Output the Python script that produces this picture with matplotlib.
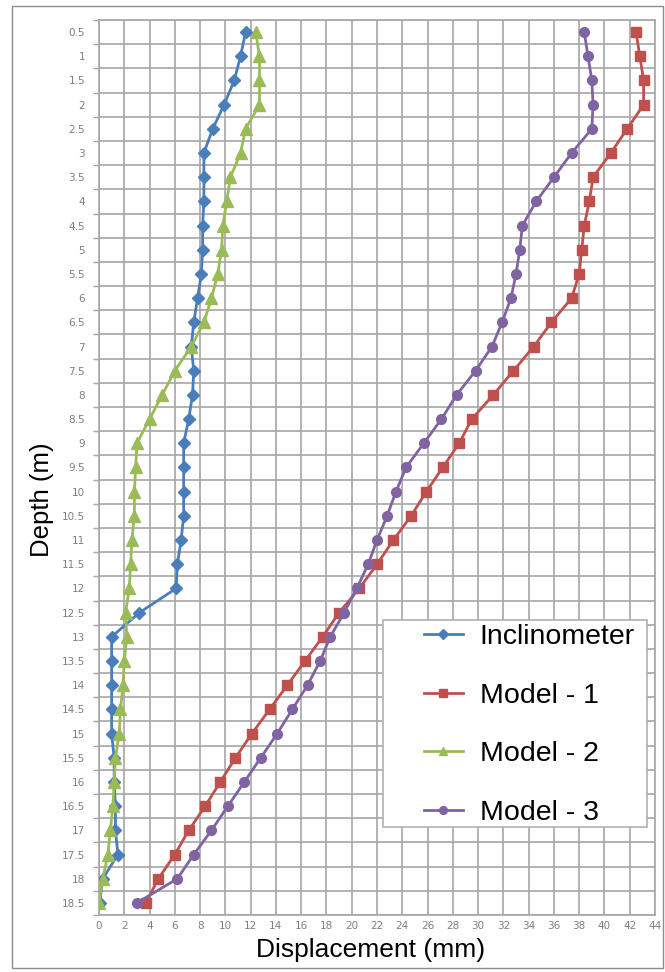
import numpy as np
import matplotlib
matplotlib.use("Agg")
import matplotlib.pyplot as plt
from matplotlib.patches import Rectangle

depth = [0.5, 1, 1.5, 2, 2.5, 3, 3.5, 4, 4.5, 5, 5.5, 6, 6.5, 7, 7.5, 8, 8.5, 9, 9.5,
         10, 10.5, 11, 11.5, 12, 12.5, 13, 13.5, 14, 14.5, 15, 15.5, 16, 16.5, 17, 17.5, 18, 18.5]
depth_labels = ["0.5", "1", "1.5", "2", "2.5", "3", "3.5", "4", "4.5", "5", "5.5", "6", "6.5",
                "7", "7.5", "8", "8.5", "9", "9.5", "10", "10.5", "11", "11.5", "12", "12.5",
                "13", "13.5", "14", "14.5", "15", "15.5", "16", "16.5", "17", "17.5", "18", "18.5"]

inclinometer = [11.6, 11.2, 10.7, 9.9, 9.0, 8.3, 8.3, 8.3, 8.2, 8.2, 8.1, 7.8, 7.5, 7.3, 7.5,
                7.4, 7.1, 6.7, 6.7, 6.7, 6.7, 6.5, 6.2, 6.1, 3.2, 1.0, 1.0, 1.0, 1.0, 1.0,
                1.2, 1.2, 1.3, 1.3, 1.5, 0.3, 0.05]
model_1 = [42.5, 42.8, 43.1, 43.1, 41.8, 40.5, 39.1, 38.8, 38.4, 38.2, 38.0, 37.4, 35.8, 34.4,
           32.8, 31.2, 29.5, 28.5, 27.2, 25.9, 24.7, 23.3, 22.0, 20.6, 19.0, 17.7, 16.3, 14.9,
           13.5, 12.1, 10.8, 9.6, 8.4, 7.1, 6.0, 4.7, 3.7]
model_2 = [12.4, 12.7, 12.7, 12.7, 11.6, 11.2, 10.4, 10.1, 9.8, 9.7, 9.4, 8.9, 8.3, 7.3, 6.0,
           5.0, 4.0, 3.0, 2.9, 2.8, 2.8, 2.6, 2.5, 2.4, 2.1, 2.2, 2.0, 1.9, 1.7, 1.6, 1.3,
           1.2, 1.1, 0.9, 0.7, 0.3, 0.0]
model_3 = [38.4, 38.7, 39.0, 39.1, 39.0, 37.4, 36.0, 34.6, 33.5, 33.3, 33.0, 32.6, 31.9, 31.1,
           29.8, 28.3, 27.1, 25.7, 24.3, 23.5, 22.8, 22.0, 21.3, 20.4, 19.4, 18.3, 17.5, 16.5,
           15.3, 14.1, 12.8, 11.5, 10.2, 8.9, 7.5, 6.2, 3.0]

x_ticks = list(range(0, 46, 2))

W, H = 665, 972
fig = plt.figure(figsize=(W / 100, H / 100), dpi=100)
ax = fig.add_axes([99 / W, 1 - 915 / H, (655 - 99) / W, (915 - 20) / H])

grid_c = "#a6a6a6"
ax.plot(inclinometer, depth, color="#4a7ebb", marker="D", ms=6, lw=2, label="Inclinometer", zorder=3)
ax.plot(model_1, depth, color="#c0504d", marker="s", ms=7, lw=2, label="Model - 1", zorder=3)
ax.plot(model_2, depth, color="#9bbb59", marker="^", ms=8, lw=2, label="Model - 2", zorder=3)
ax.plot(model_3, depth, color="#8064a2", marker="o", ms=7, lw=2, label="Model - 3", zorder=3)

ax.set_xlim(0, 44)
ax.set_ylim(18.75, 0.25)
ax.set_xticks(x_ticks)
ax.set_xticklabels([str(v) for v in x_ticks])
ax.set_yticks(depth)
ax.set_yticklabels(depth_labels)
ax.set_yticks(np.arange(0.25, 18.8, 0.5), minor=True)
ax.tick_params(axis="both", which="major", length=0, labelsize=7.5, labelcolor="#7f7f7f")
ax.tick_params(axis="y", which="major", pad=10)
ax.tick_params(axis="x", which="major", pad=4)
ax.tick_params(axis="y", which="minor", length=4, color=grid_c, width=1)
ax.tick_params(axis="x", which="minor", length=0)
ax.grid(True, axis="x", which="major", color=grid_c, lw=1.2)
ax.grid(True, axis="y", which="minor", color=grid_c, lw=1.2)
ax.set_axisbelow(True)
for s in ax.spines.values():
    s.set_color(grid_c)
    s.set_linewidth(1.2)

# legend box
box = Rectangle((383 / W, 1 - 827 / H), (647 - 383) / W, (827 - 620) / H,
                transform=fig.transFigure, facecolor="white", edgecolor="#b0b0b0",
                lw=1.2, zorder=5)
fig.patches.append(box)
leg = fig.legend(loc="center left", bbox_to_anchor=(410 / W, 1 - 725 / H), frameon=False,
                 prop={"family": "Liberation Sans", "size": 20.5}, handlelength=1.35,
                 handletextpad=0.6, labelspacing=1.15, borderpad=0, markerscale=0.8)
leg.set_zorder(6)

fig.text(42 / W, 1 - 500 / H, "Depth (m)", rotation=90, ha="center", va="center",
         family="Liberation Sans", fontsize=18.5)
fig.text(371 / W, 1 - 950 / H, "Displacement (mm)", ha="center", va="center",
         family="Liberation Sans", fontsize=19)

# outer frame
fig.patches.append(Rectangle((12 / W, 4 / H), (663 - 12) / W, (966 - 4) / H,
                             transform=fig.transFigure, fill=False, edgecolor="#8c8c8c", lw=1))

fig.savefig("out.png", dpi=100)
